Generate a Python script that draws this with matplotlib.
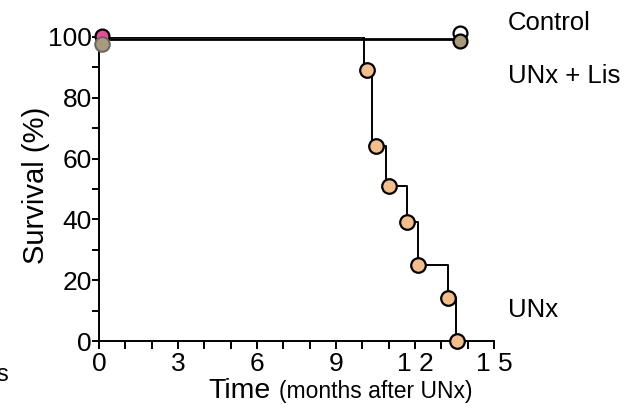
import matplotlib
matplotlib.use("Agg")
import matplotlib.pyplot as plt
from matplotlib.ticker import MultipleLocator

plt.rcParams['font.family'] = ['Liberation Sans', 'DejaVu Sans']

# UNx Kaplan-Meier step line (drop times and levels after each drop)
unx_step_t = [0, 10.07, 10.35, 10.89, 11.71, 12.13, 13.27, 13.56]
unx_step_s = [100, 89, 64, 51, 39, 25, 14, 0]
# UNx event markers
unx_mark_t = [10.17, 10.51, 11.01, 11.71, 12.13, 13.24, 13.61]
unx_mark_s = [89, 64, 51, 39, 25, 14, 0]

# Control and UNx + Lis (no deaths)
ctrl_t = [0.12, 13.69]
ctrl_s = [101.3, 101.3]
lis_t = [0.12, 13.69]
lis_s = [99.4, 99.4]
ctrl_start_s = 100.4
lis_start_s = 97.6
lis_end_s = 98.8

xticks = [0, 3, 6, 9, 12, 15]
xticklabels = ['0', '3', '6', '9', '1 2', '1 5']
yticks = [0, 20, 40, 60, 80, 100]

fig = plt.figure(figsize=(6.25, 4.12), dpi=100)
ax = fig.add_axes([0.1584, 0.1723, 0.632, 0.738])

ax.plot(ctrl_t, ctrl_s, color='black', lw=2.0, solid_capstyle='butt', zorder=3)
ax.plot(lis_t, lis_s, color='black', lw=2.0, solid_capstyle='butt', zorder=3)
ax.step(unx_step_t, unx_step_s, where='post', color='black', lw=1.4, zorder=3)

ax.plot(unx_mark_t, unx_mark_s, 'o', ms=10.5, mfc='#F4BE8B', mec='black', mew=1.6,
        clip_on=False, zorder=5)

# start markers
ax.plot([ctrl_t[0]], [ctrl_start_s], 'o', ms=10, mfc='#EE4A9A', mec='black', mew=1.6,
        clip_on=False, zorder=5)
ax.plot([lis_t[0]], [lis_start_s], 'o', ms=10.5, mfc='#A89A7A', mec='#666666', mew=1.4,
        clip_on=False, zorder=6)
# end markers
ax.plot([ctrl_t[1]], [ctrl_s[1]], 'o', ms=10, mfc='white', mec='black', mew=1.6,
        clip_on=False, zorder=5)
ax.plot([lis_t[1]], [lis_end_s], 'o', ms=10, mfc='#A89A7A', mec='black', mew=1.6,
        clip_on=False, zorder=6)

ax.set_xlim(0, 15)
ax.set_ylim(0, 100)
ax.spines['top'].set_visible(False)
ax.spines['right'].set_visible(False)
for s in ['left', 'bottom']:
    ax.spines[s].set_linewidth(1.4)

ax.set_xticks(xticks)
ax.set_xticklabels(xticklabels)
ax.xaxis.set_minor_locator(MultipleLocator(1))
ax.set_yticks(yticks)
ax.yaxis.set_minor_locator(MultipleLocator(10))
ax.tick_params(axis='x', which='both', direction='out', length=6, width=1.4,
               labelsize=19, pad=2)
ax.tick_params(axis='y', which='both', direction='out', length=5, width=1.4,
               labelsize=19, pad=0)

ax.set_ylabel('Survival (%)', fontsize=21, va='center')
ax.yaxis.set_label_coords(-0.16, 0.513)

fig.text(0.333, 0.035, 'Time', fontsize=20.5, ha='left', va='baseline')
fig.text(0.447, 0.035, '(months after UNx)', fontsize=16.5, ha='left', va='baseline')

fig.text(0.813, 0.945, 'Control', fontsize=18.5, ha='left', va='center')
fig.text(0.813, 0.815, 'UNx + Lis', fontsize=18.5, ha='left', va='center')
fig.text(0.813, 0.248, 'UNx', fontsize=18.5, ha='left', va='center')

fig.text(-0.006, 0.09, 's', fontsize=17, ha='left', va='center')

fig.savefig('out.png', dpi=100)
